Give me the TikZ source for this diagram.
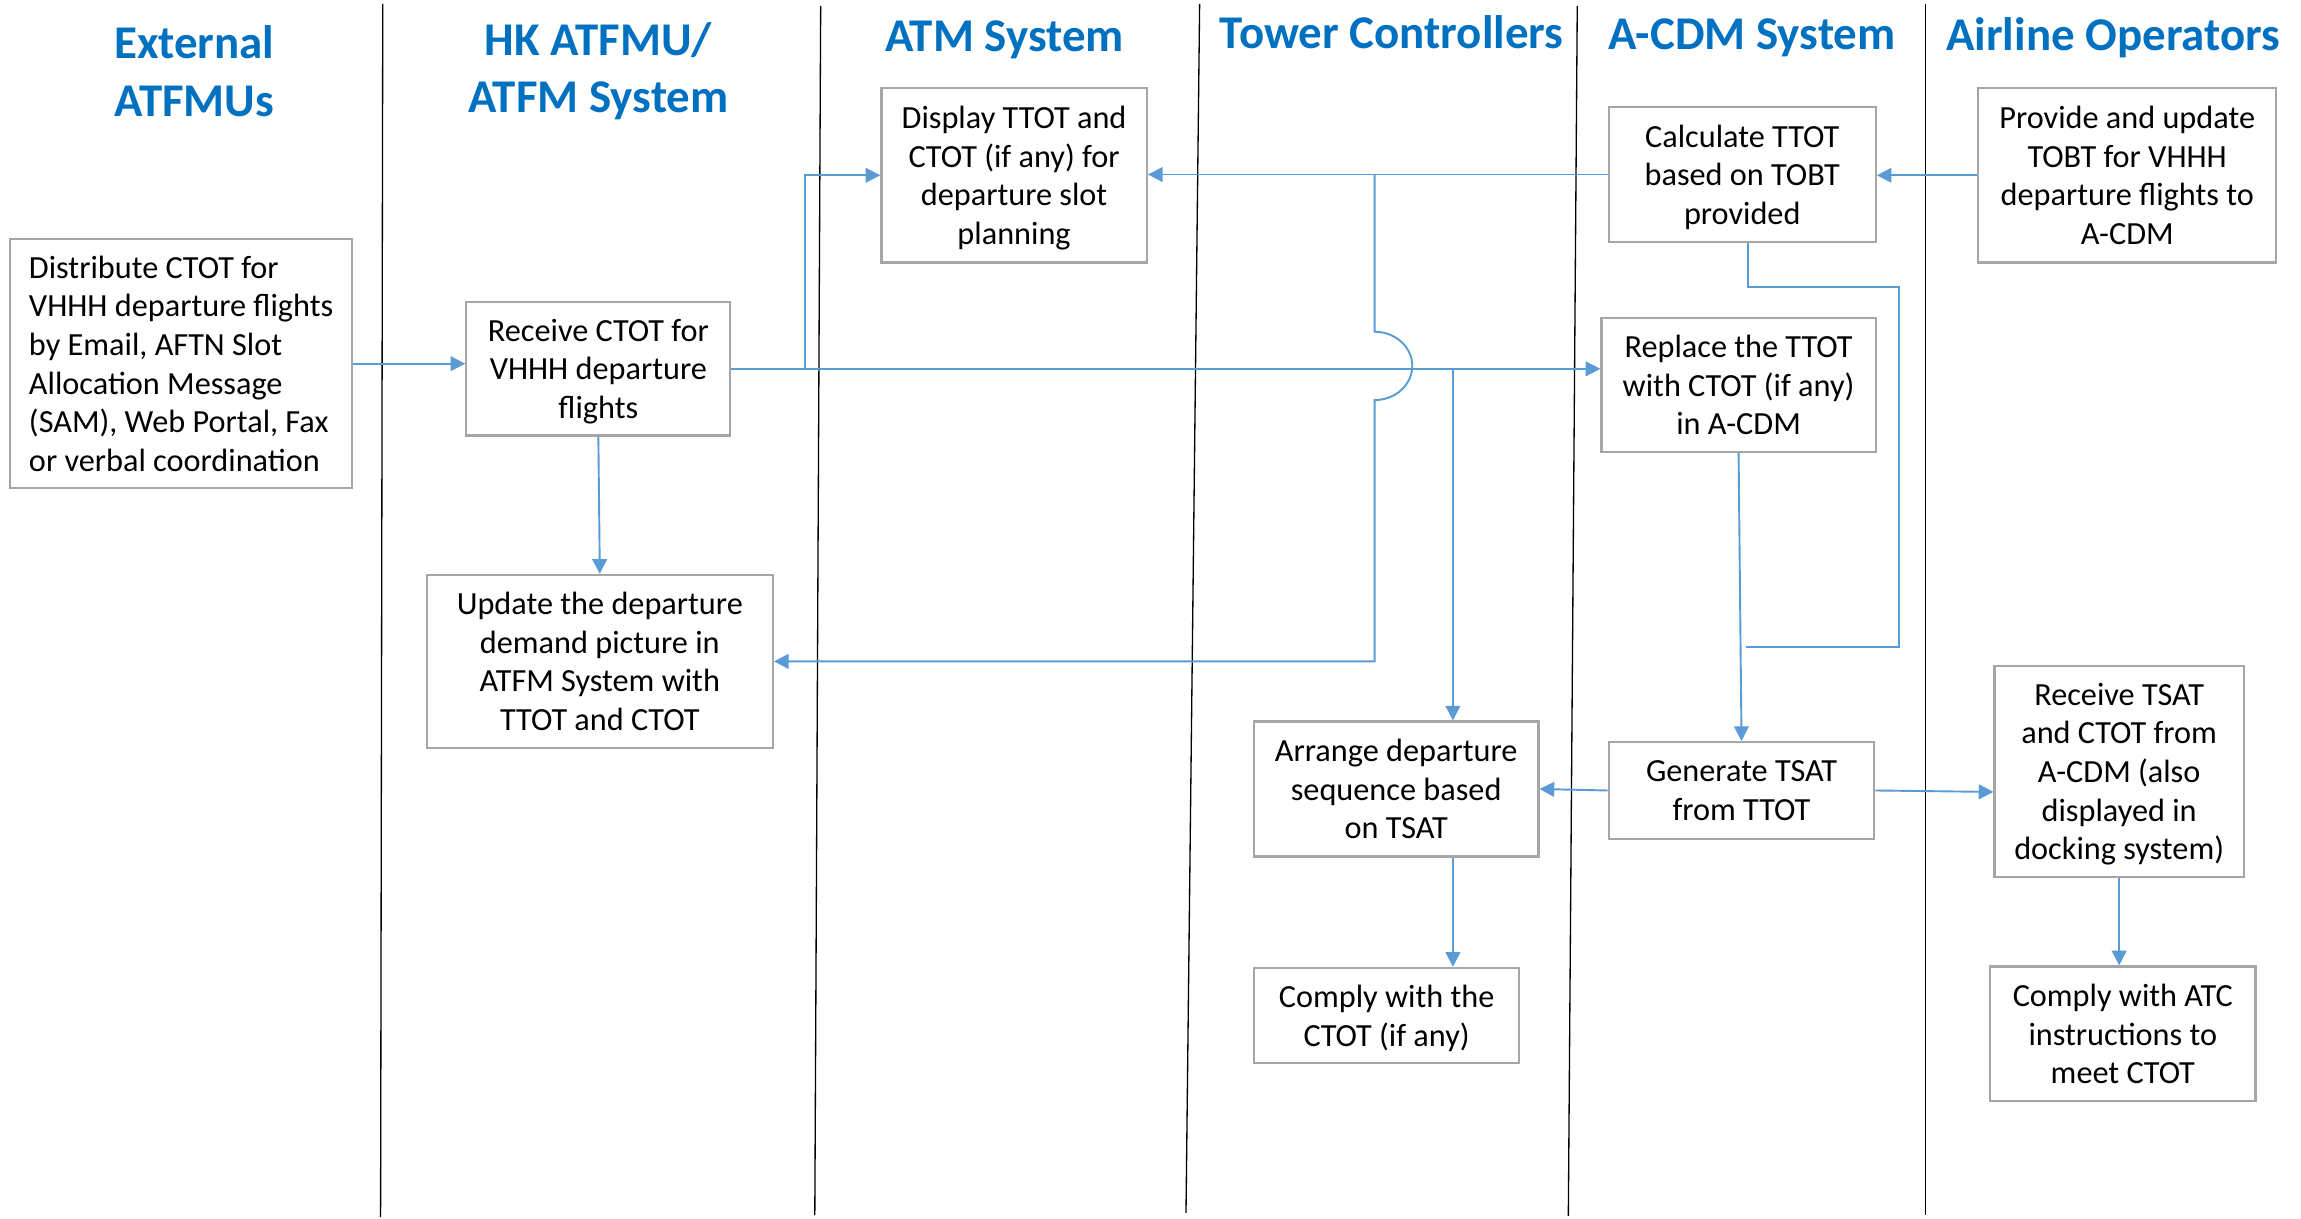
\documentclass[tikz,border=0pt]{standalone}
\usepackage{fontspec}
\setmainfont{Carlito}
\usetikzlibrary{arrows.meta,calc}
\definecolor{hblue}{HTML}{0070C0}
\definecolor{cblue}{HTML}{5B9BD5}
\definecolor{bgray}{HTML}{A6A6A6}
\begin{document}
\begin{tikzpicture}[x=0.5pt,y=-0.5pt,
 lane/.style={draw=black,line width=0.45pt},
 hdr/.style={text=hblue,font=\bfseries\fontsize{16}{19.5}\selectfont,align=center,inner sep=0pt},
 box/.style={draw=bgray,line width=0.75pt,fill=white,align=center,inner sep=0pt,text depth=0pt,font=\fontsize{11}{13.2}\selectfont},
 conn/.style={draw=cblue,line width=0.65pt},
 arr/.style={conn,-{Triangle[length=5pt,width=5pt]}}]
\useasboundingbox (0,0) rectangle (1569,831);
\fill[white] (0,0) rectangle (1569,831);
% lanes
\draw[lane] (261,2.7) -- (259.5,830);
\draw[lane] (559.6,4) -- (555.6,828.5);
\draw[lane] (818,2.7) -- (808.7,827);
\draw[lane] (1075.5,4) -- (1069.4,829);
\draw[lane] (1313,2.7) -- (1313,828.5);
% headers
\node[hdr] (h1) at (132.5,48.5) {External\\ATFMUs};
\node[hdr] (h2) at (408,48.5) {HK ATFMU/\\ATFM System};
\node[hdr] (h3) at (685,27) {ATM System};
\node[hdr] (h4) at (949,22) {Tower Controllers};
\node[hdr] (h5) at (1194.5,26) {A-CDM System};
\node[hdr] (h6) at (1441,26) {Airline Operators};
% boxes
\node[box,align=left,minimum width=116.5pt,minimum height=85pt] (dist) at (123.5,248) {Distribute CTOT for\\VHHH departure flights\\by Email, AFTN Slot\\Allocation Message\\(SAM), Web Portal, Fax\\or verbal coordination};
\node[box,minimum width=90pt,minimum height=45.5pt] (recv) at (408,251.5) {Receive CTOT for\\VHHH departure\\flights};
\node[box,minimum width=118pt,minimum height=59pt] (upd) at (409,451) {Update the departure\\demand picture in\\ATFM System with\\TTOT and CTOT};
\node[box,minimum width=90.5pt,minimum height=59.5pt] (disp) at (691.5,119.5) {Display TTOT and\\CTOT (if any) for\\departure slot\\planning};
\node[box,minimum width=91pt,minimum height=46pt] (calc) at (1188,119) {Calculate TTOT\\based on TOBT\\provided};
\node[box,minimum width=101.5pt,minimum height=59.5pt] (prov) at (1450.5,119.5) {Provide and update\\TOBT for VHHH\\departure flights to\\A-CDM};
\node[box,minimum width=93.5pt,minimum height=45.5pt] (repl) at (1185.5,262.5) {Replace the TTOT\\with CTOT (if any)\\in A-CDM};
\node[box,minimum width=90.5pt,minimum height=33pt] (gen) at (1187.5,539) {Generate TSAT\\from TTOT};
\node[box,minimum width=97pt,minimum height=46pt] (arr) at (952,538) {Arrange departure\\sequence based\\on TSAT};
\node[box,minimum width=90.5pt,minimum height=32.5pt] (comp1) at (945.5,692.5) {Comply with the\\CTOT (if any)};
\node[box,minimum width=85pt,minimum height=72pt] (rtsat) at (1445,526) {Receive TSAT\\and CTOT from\\A-CDM (also\\displayed in\\docking system)};
\node[box,minimum width=90.5pt,minimum height=46pt] (comp2) at (1447.5,705) {Comply with ATC\\instructions to\\meet CTOT};
% helper coordinates
\coordinate (br1) at (549,251.5);
\coordinate (br2) at (990.7,251.5);
\coordinate (j0) at (937.3,119.2);
\coordinate (jA) at (937.3,226.2);
\coordinate (j2) at (937.3,451);
\coordinate (lpA) at (1294.6,195.7);
\coordinate (lpB) at (1190.5,441);
% connectors
\draw[arr] (dist.east) -- (dist.east -| recv.west);
\draw[arr] (recv.east) -- (recv.east -| repl.west);
\draw[arr] (br1) |- (disp.west);
\draw[arr] (recv.south) -- (upd.north);
\draw[arr] (calc.west) -- (calc.west -| disp.east);
\draw[arr] (prov.west) -- (prov.west -| calc.east);
\draw[arr] (j0) -- (jA) arc[start angle=90,end angle=-90,x radius=12.85pt,y radius=11.65pt] -- (j2) -- (j2 -| upd.east);
\draw[conn] ([xshift=1.8pt]calc.south) |- (lpA) |- (lpB);
\draw[arr] (repl.south) -- (gen.north);
\draw[arr] (br2) -- (br2 |- arr.north);
\draw[arr] (gen.west) -- (arr.east);
\draw[arr] (gen.east) -- ([yshift=-0.5pt]gen.east -| rtsat.west);
\draw[arr] (br2 |- arr.south) -- (br2 |- comp1.north);
\draw[arr] (rtsat.south) -- (rtsat.south |- comp2.north);
\end{tikzpicture}
\end{document}
